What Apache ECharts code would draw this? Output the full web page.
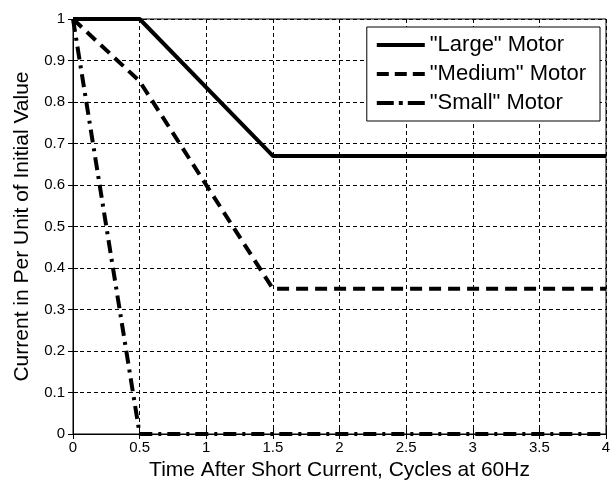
<!DOCTYPE html>
<html><head><meta charset="utf-8">
<script src="https://cdn.jsdelivr.net/npm/echarts@6/dist/echarts.min.js"></script>
<style>html,body{margin:0;padding:0;background:#fff}#c{width:612px;height:483px}</style>
</head><body><div id="c"></div>
<script>
const largeMotor = [[0, 1], [0.5, 1], [1.5, 0.67], [4, 0.67]];
const mediumMotor = [[0, 1], [0.5, 0.85], [1.5, 0.35], [4, 0.35]];
const smallMotor = [[0, 1], [0.5, 0], [4, 0]];
const seriesNames = ['"Large" Motor', '"Medium" Motor', '"Small" Motor'];
const xName = 'Time After Short Current, Cycles at 60Hz';
const yName = 'Current in Per Unit of Initial Value';

const legendIcons = [
  'path://M0,0H48V4H0Z',
  'path://M0,0h12v4h-12z M18,0h12v4h-12z M36,0h12v4h-12z',
  'path://M0,0h17v4h-17z M22,0h4v4h-4z M31,0h17v4h-17z'
];

const chart = echarts.init(document.getElementById('c'), null, {renderer: 'canvas'});
const font = 'Arial, "Liberation Sans", sans-serif';
const gridLine = {show: true, lineStyle: {color: '#000', type: [4, 3], width: 1}};
const tick = {show: true, inside: true, length: 5, lineStyle: {color: '#000'}};
const axLine = {show: true, lineStyle: {color: '#000', width: 1}};
chart.setOption({
  animation: false,
  backgroundColor: '#fff',
  grid: {left: 73, right: 6, top: 19, bottom: 49, show: true, borderColor: '#000', borderWidth: 1,
         containLabel: false, outerBoundsMode: 'none'},
  legend: {
    orient: 'vertical', right: 12, top: 27,
    backgroundColor: '#fff', borderColor: '#000', borderWidth: 1,
    padding: [7, 14, 7, 10], itemGap: 7, itemWidth: 48, itemHeight: 4,
    textStyle: {color: '#000', fontSize: 22, fontFamily: font, lineHeight: 22},
    data: seriesNames.map((n, i) => ({name: n, icon: legendIcons[i], itemStyle: {color: '#000'}}))
  },
  xAxis: [{
    type: 'value', min: 0, max: 4, interval: 0.5,
    axisLine: axLine, axisTick: tick, splitLine: gridLine,
    axisLabel: {color: '#000', fontSize: 15, fontFamily: font, margin: 6},
    name: xName, nameLocation: 'middle', nameGap: 26,
    nameTextStyle: {color: '#000', fontSize: 21, fontFamily: font}
  }, {
    type: 'value', min: 0, max: 4, interval: 0.5, position: 'top',
    axisLine: axLine, axisTick: tick, splitLine: {show: false}, axisLabel: {show: false}
  }],
  yAxis: [{
    type: 'value', min: 0, max: 1, interval: 0.1,
    axisLine: axLine, axisTick: tick, splitLine: gridLine,
    axisLabel: {color: '#000', fontSize: 15, fontFamily: font, margin: 8},
    name: yName, nameLocation: 'middle', nameGap: 40,
    nameTextStyle: {color: '#000', fontSize: 21, fontFamily: font}
  }, {
    type: 'value', min: 0, max: 1, interval: 0.1, position: 'right',
    axisLine: axLine, axisTick: tick, splitLine: {show: false}, axisLabel: {show: false}
  }],
  series: [
    {name: seriesNames[0], type: 'line', data: largeMotor, symbol: 'none',
     lineStyle: {color: '#000', width: 4, type: 'solid'}, itemStyle: {color: '#000'}},
    {name: seriesNames[1], type: 'line', data: mediumMotor, symbol: 'none',
     lineStyle: {color: '#000', width: 4, type: [12, 7]}, itemStyle: {color: '#000'}},
    {name: seriesNames[2], type: 'line', data: smallMotor, symbol: 'none',
     lineStyle: {color: '#000', width: 4, type: [13, 6, 3, 6]}, itemStyle: {color: '#000'}}
  ]
});
</script></body></html>
